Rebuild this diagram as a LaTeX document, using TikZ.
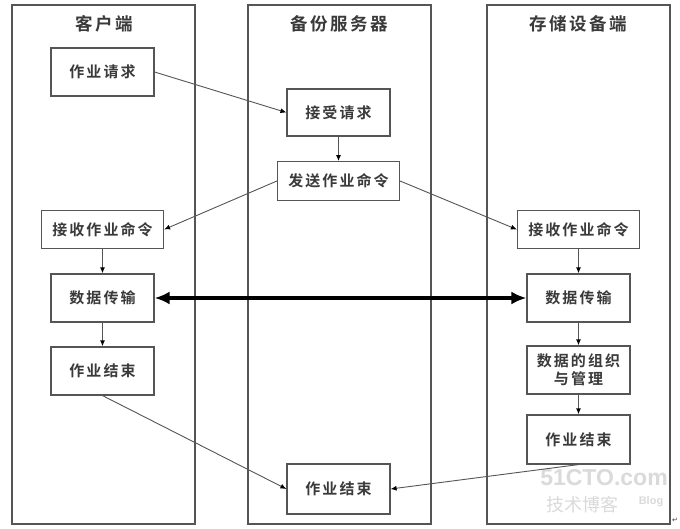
\documentclass[tikz,border=0pt]{standalone}
\usepackage{fontspec}
\setmainfont{Noto Sans CJK SC}[BoldFont={* Bold}]
\newfontfamily\spaced{Noto Sans CJK SC Bold}[LetterSpace=14]
\newfontfamily\dejavu{DejaVu Sans}
\newfontfamily\libsans{Liberation Sans}
\usetikzlibrary{arrows.meta}
\definecolor{edge}{HTML}{555555}
\definecolor{txt}{HTML}{3A3A3A}
\definecolor{wm}{HTML}{DADADA}
\tikzset{
  panel/.style={draw=edge,line width=1.2pt,fill=none,inner sep=0pt,minimum width=183pt,minimum height=519pt},
  title/.style={text=txt,font=\spaced\fontsize{17.5}{20}\selectfont,inner sep=0pt},
  wide/.style={draw=edge,line width=1.2pt,fill=white,text=txt,inner sep=0pt,minimum width=103pt,minimum height=48pt,align=center,font=\spaced\fontsize{15}{18}\selectfont},
  long/.style={wide,minimum width=122pt,minimum height=38.5pt},
  conn/.style={draw=edge,line width=0.9pt,-{Latex[length=6pt,width=5pt,color=black]}},
  down/.style={conn,line width=1.3pt},
  thick2/.style={draw=black,line width=3.6pt,{Latex[length=15pt,width=13pt]}-{Latex[length=15pt,width=13pt]}},
  mark1/.style={text=wm,inner sep=0pt}
}
\begin{document}
\begin{tikzpicture}[x=1pt,y=-1pt]
\useasboundingbox (0,0) rectangle (680,529);
\fill[white] (0,0) rectangle (680,529);
\node[panel] (pa) at (103.5,264.5) {};
\node[panel] (pb) at (339.5,264.5) {};
\node[panel] (pc) at (578.5,264.5) {};
\node[title] (ta) at (104,24) {客户端};
\node[title] (tb) at (339,24) {备份服务器};
\node[title] (tc) at (578,24) {存储设备端};
\node[mark1,font=\libsans\bfseries\fontsize{23}{24}\selectfont] (w1) at (604,478) {51CTO.com};
\node[mark1,font=\fontsize{18}{20}\selectfont] (w2) at (582,505) {技术博客};
\node[mark1,font=\libsans\bfseries\fontsize{11}{12}\selectfont] (w3) at (651,502) {Blog};
\node[wide] (a1) at (102.5,72) {作业请求};
\node[wide,minimum height=47pt] (b1) at (338.5,112.5) {接受请求};
\node[long] (b2) at (338.5,181) {发送作业命令};
\node[long] (a2) at (102.5,229.5) {接收作业命令};
\node[wide] (a3) at (102.5,298) {数据传输};
\node[wide] (a4) at (102.5,371) {作业结束};
\node[long] (c1) at (578.5,229.5) {接收作业命令};
\node[wide] (c2) at (578.5,298) {数据传输};
\node[wide] (c3) at (578.5,370) {数据的组织\\与管理};
\node[wide,minimum height=49pt] (c4) at (578.5,439.5) {作业结束};
\node[wide,minimum height=50pt] (b3) at (338.5,489) {作业结束};
\draw[conn] (a1.east) -- (b1.west);
\draw[down] (b1.south) -- (b2.north);
\draw[conn] (b2.west) -- (a2.east);
\draw[conn] (b2.east) -- (c1.west);
\draw[down] (a2.south) -- (a3.north);
\draw[down] (a3.south) -- (a4.north);
\draw[conn] (a4.south) -- (b3.west);
\draw[down] (c1.south) -- (c2.north);
\draw[down] (c2.south) -- (c3.north);
\draw[down] (c3.south) -- (c4.north);
\draw[conn] (c4.south) -- (b3.east);
\draw[thick2] (a3.east) -- (c2.west);
\node[inner sep=0pt,text=txt,font=\dejavu\fontsize{7}{8}\selectfont] (ret) at (675,520) {↵};
\end{tikzpicture}
\end{document}
